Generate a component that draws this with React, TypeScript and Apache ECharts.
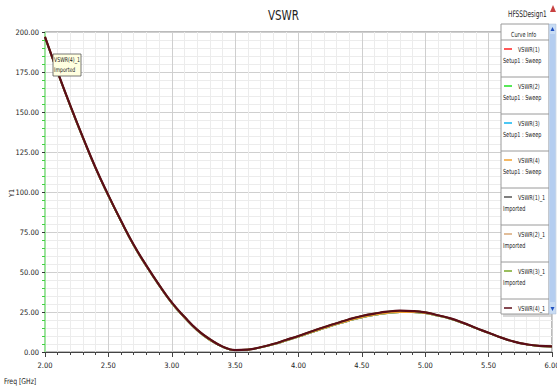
import React, { useEffect, useRef } from "react";
import * as echarts from "echarts";

const freqs = [2.0, 2.1, 2.2, 2.3, 2.4, 2.5, 2.6, 2.7, 2.8, 2.9, 3.0, 3.1, 3.2, 3.3, 3.4, 3.5, 3.6, 3.7, 3.8, 3.9, 4.0, 4.1, 4.2, 4.3, 4.4, 4.5, 4.6, 4.7, 4.8, 4.9, 5.0, 5.1, 5.2, 5.3, 5.4, 5.5, 5.6, 5.7, 5.8, 5.9, 6.0];
const vswrSweep = [196.5, 174.5, 153.5, 133.5, 114.5, 97.5, 81.5, 66.5, 53.5, 41.5, 30.5, 21.5, 13.5, 7.5, 3.2, 1.1, 1.4, 2.8, 4.7, 7.0, 9.5, 12.2, 14.8, 17.3, 19.6, 21.6, 23.2, 24.3, 24.9, 24.9, 24.2, 22.6, 20.6, 17.9, 14.8, 11.8, 8.9, 6.4, 4.7, 3.7, 3.4];
const vswrImported = [197, 175, 154, 134, 115, 98, 82, 67, 54, 42, 31, 22, 14, 8, 3.5, 1.2, 1.5, 3, 5, 7.5, 10, 12.8, 15.5, 18, 20.5, 22.5, 24, 25.2, 25.8, 25.6, 24.8, 23, 21, 18.2, 15, 12, 9, 6.5, 4.8, 3.8, 3.5];
const curveNames = ["VSWR(1)", "VSWR(2)", "VSWR(3)", "VSWR(4)", "VSWR(1)_1", "VSWR(2)_1", "VSWR(3)_1", "VSWR(4)_1"];
const curveSubs = ["Setup1 : Sweep", "Setup1 : Sweep", "Setup1 : Sweep", "Setup1 : Sweep", "Imported", "Imported", "Imported", "Imported"];
const curveColors = ["#ff2020", "#20e020", "#10b4f0", "#f0a030", "#555555", "#d8a878", "#78a828", "#5c0c18"];
const yTicks = [0, 25, 50, 75, 100, 125, 150, 175, 200];

const FONT = "'Liberation Sans Narrow', 'DejaVu Sans Condensed', 'Liberation Sans', Arial, sans-serif";

export default function App() {
  const ref = useRef<HTMLDivElement>(null);
  useEffect(() => {
    if (!ref.current) return;
    const chart = echarts.init(ref.current, null, { renderer: "svg" });
    const series = curveNames.map((name, i) => {
      const vals = i < 4 ? vswrSweep : vswrImported;
      return {
        name,
        type: "line",
        smooth: true,
        showSymbol: false,
        data: freqs.map((f, k) => [f, vals[k]]),
        lineStyle: { color: curveColors[i], width: i === 7 ? 2.2 : 1.6 },
        itemStyle: { color: curveColors[i] },
        z: 2 + i,
      };
    });

    const legendX = 501;
    const legendW = 48;
    const legendTop = 24;
    const itemH = 37;
    const sx = 0.78;
    const fs = 7;
    const legendEls: any[] = [
      { type: "rect", shape: { x: legendX + 2, y: legendTop + 2, width: legendW, height: 291 }, style: { fill: "#d8d8d8" }, z: 10 },
      { type: "rect", shape: { x: legendX, y: legendTop, width: legendW, height: 290 }, style: { fill: "#ffffff", stroke: "#9a9a9a", lineWidth: 1 }, z: 11 },
      { type: "rect", shape: { x: legendX + legendW, y: legendTop, width: 7, height: 290 }, style: { fill: "#c8dcf4", stroke: "#a8b8d0", lineWidth: 0.5 }, z: 11 },
      { type: "rect", shape: { x: legendX + legendW + 1, y: legendTop + 10, width: 5, height: 268 }, style: { fill: "#b4cdf0" }, z: 11 },
      { type: "polygon", shape: { points: [[legendX + legendW + 1.5, legendTop + 7], [legendX + legendW + 5.5, legendTop + 7], [legendX + legendW + 3.5, legendTop + 3]] }, style: { fill: "#2050c0" }, z: 12 },
      { type: "polygon", shape: { points: [[legendX + legendW + 1.5, legendTop + 283], [legendX + legendW + 5.5, legendTop + 283], [legendX + legendW + 3.5, legendTop + 287]] }, style: { fill: "#2050c0" }, z: 12 },
      { type: "text", x: legendX + 10, y: legendTop + 10, scaleX: sx, style: { text: "Curve Info", font: `${fs}px ${FONT}`, fill: "#222", verticalAlign: "middle" }, z: 12 },
      { type: "line", shape: { x1: legendX, y1: legendTop + 16, x2: legendX + legendW, y2: legendTop + 16 }, style: { stroke: "#9a9a9a", lineWidth: 1 }, z: 12 },
    ];
    curveNames.forEach((name, i) => {
      const top = legendTop + 16 + i * itemH;
      legendEls.push(
        { type: "line", shape: { x1: legendX + 3, y1: top + 9, x2: legendX + 11, y2: top + 9 }, style: { stroke: curveColors[i], lineWidth: 1.5 }, z: 12 },
        { type: "text", x: legendX + 17, y: top + 9, scaleX: sx, style: { text: name, font: `${fs}px ${FONT}`, fill: "#222", verticalAlign: "middle" }, z: 12 },
      );
      if (i < curveNames.length - 1) {
        legendEls.push(
          { type: "text", x: legendX + 2, y: top + 20, scaleX: sx, style: { text: curveSubs[i], font: `${fs}px ${FONT}`, fill: "#222", verticalAlign: "middle" }, z: 12 },
          { type: "line", shape: { x1: legendX, y1: top + itemH, x2: legendX + legendW, y2: top + itemH }, style: { stroke: "#9a9a9a", lineWidth: 1 }, z: 12 },
        );
      }
    });

    chart.setOption({
      animation: false,
      backgroundColor: "#ffffff",
      grid: {
        left: 45, right: 5, top: 32, bottom: 37,
        containLabel: false,
        outerBoundsMode: "none",
        show: true, borderColor: "#777", borderWidth: 1, backgroundColor: "#fff",
      },
      xAxis: {
        type: "value",
        min: 2,
        max: 6,
        interval: 0.5,
        axisLine: { show: true, lineStyle: { color: "#444", width: 1 } },
        axisTick: { show: true, length: 5, lineStyle: { color: "#444" } },
        minorTick: { show: true, splitNumber: 5, length: 3, lineStyle: { color: "#444" } },
        axisLabel: { fontFamily: FONT, fontSize: 7.5, color: "#222", margin: 9, formatter: (v: number) => v.toFixed(2) },
        splitLine: { show: true, lineStyle: { color: "#cfcfcf", width: 1 } },
        minorSplitLine: { show: true, lineStyle: { color: "#ececec", width: 1 } },
      },
      yAxis: {
        type: "value",
        min: yTicks[0],
        max: yTicks[yTicks.length - 1],
        interval: 25,
        axisLine: { show: true, lineStyle: { color: "#90ee90", width: 1.5 } },
        axisTick: { show: true, length: 3, lineStyle: { color: "#333" } },
        minorTick: { show: true, splitNumber: 5, length: 3, lineStyle: { color: "#40d040", width: 1 } },
        axisLabel: { fontFamily: FONT, fontSize: 7.5, color: "#222", margin: 6, formatter: (v: number) => v.toFixed(2) },
        splitLine: { show: true, lineStyle: { color: "#cfcfcf", width: 1 } },
        minorSplitLine: { show: true, lineStyle: { color: "#ececec", width: 1 } },
      },
      series,
      graphic: [
        { type: "text", x: 268, y: 15, scaleX: 0.82, style: { text: "VSWR", font: `14px ${FONT}`, fill: "#222", verticalAlign: "middle" }, z: 12 },
        { type: "text", x: 508, y: 14, scaleX: 0.72, style: { text: "HFSSDesign1", font: `9px ${FONT}`, fill: "#222", verticalAlign: "middle" }, z: 12 },
        { type: "polygon", shape: { points: [[550, 12], [556, 12], [553, 5]] }, style: { fill: "#c84040" }, z: 12 },
        { type: "text", x: 12, y: 193, rotation: Math.PI / 2, style: { text: "Y1", font: `7px ${FONT}`, fill: "#222", align: "center", verticalAlign: "middle" }, z: 12 },
        { type: "text", x: 4, y: 381, scaleX: 0.85, style: { text: "Freq [GHz]", font: `8px ${FONT}`, fill: "#222", verticalAlign: "middle" }, z: 12 },
        { type: "rect", shape: { x: 53, y: 54, width: 28, height: 22 }, style: { fill: "#ffffe0", stroke: "#555", lineWidth: 0.8 }, z: 12 },
        { type: "text", x: 54, y: 60, scaleX: 0.8, style: { text: "VSWR(4)_1", font: `6.5px ${FONT}`, fill: "#222", verticalAlign: "middle" }, z: 13 },
        { type: "text", x: 54, y: 70, scaleX: 0.8, style: { text: "Imported", font: `6.5px ${FONT}`, fill: "#222", verticalAlign: "middle" }, z: 13 },
        ...legendEls,
      ],
    });
    return () => chart.dispose();
  }, []);
  return <div ref={ref} style={{ width: 557, height: 389, position: "absolute", left: 0, top: 0 }} />;
}
